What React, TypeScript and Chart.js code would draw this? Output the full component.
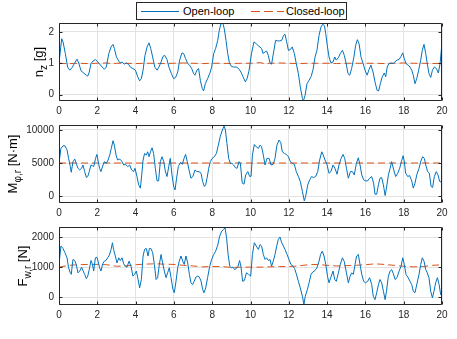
import React, { useEffect, useRef } from 'react';
import { Chart, registerables } from 'chart.js';
Chart.register(...registerables);

// ---------- data ----------
const xTicks = [0, 2, 4, 6, 8, 10, 12, 14, 16, 18, 20];

const nzTicks = [0, 1, 2];
const nzOpenT = [0,0.14,0.21,0.33,0.45,0.56,0.68,0.8,0.94,1.03,1.15,1.29,1.43,1.5,1.58,1.67,1.78,1.9,1.98,2.1,2.25,2.37,2.47,2.6,2.72,2.82,2.89,3.0,3.12,3.2,3.3,3.41,3.52,3.64,3.72,3.86,3.99,4.11,4.21,4.3,4.39,4.49,4.6,4.7,4.79,4.89,5.0,5.12,5.22,5.33,5.43,5.52,5.64,5.74,5.87,5.99,6.09,6.2,6.3,6.42,6.51,6.61,6.72,6.82,6.93,7.03,7.1,7.2,7.29,7.38,7.48,7.55,7.64,7.76,7.87,7.97,8.08,8.18,8.29,8.37,8.46,8.55,8.63,8.72,8.81,8.9,9.0,9.12,9.26,9.38,9.5,9.61,9.73,9.82,9.92,10.05,10.18,10.3,10.44,10.58,10.65,10.76,10.84,10.93,11.02,11.1,11.21,11.31,11.42,11.52,11.63,11.73,11.8,11.89,11.98,12.08,12.18,12.29,12.39,12.5,12.6,12.71,12.76,12.85,12.95,13.06,13.16,13.26,13.37,13.47,13.58,13.68,13.77,13.86,13.93,14.02,14.1,14.2,14.31,14.4,14.48,14.59,14.69,14.8,14.9,15.01,15.09,15.18,15.28,15.4,15.49,15.58,15.67,15.77,15.88,15.98,16.09,16.19,16.29,16.4,16.5,16.61,16.69,16.78,16.88,16.99,17.06,17.14,17.23,17.34,17.44,17.54,17.65,17.76,17.86,17.95,18.03,18.12,18.23,18.33,18.42,18.5,18.59,18.68,18.78,18.89,18.97,19.06,19.15,19.23,19.32,19.41,19.5,19.6,19.71,19.81,19.9,19.98,20];
const nzOpenV = [1.0,1.78,1.68,1.31,0.88,0.78,0.86,0.99,1.13,1.01,0.76,0.69,0.62,0.59,0.72,0.99,1.07,1.12,1.07,0.99,0.88,0.81,0.88,1.31,1.52,1.6,1.47,1.2,1.07,1.01,1.04,0.97,1.01,0.96,0.88,0.83,0.78,0.57,0.44,0.51,0.78,1.25,1.52,1.65,1.47,1.2,0.88,0.78,0.88,1.04,1.22,1.25,1.12,0.88,0.67,0.51,0.55,0.72,1.1,1.33,1.31,1.15,0.99,0.94,0.83,0.67,0.62,0.78,0.83,0.46,0.2,0.12,0.35,0.51,0.67,0.88,1.31,1.47,1.73,2.05,2.26,2.28,2.1,1.73,1.31,1.01,0.9,0.88,0.88,0.83,0.72,0.57,0.41,0.51,0.75,1.3,1.68,1.62,1.54,1.47,1.31,1.36,1.39,1.25,1.01,0.97,1.36,1.73,1.71,1.71,1.73,1.89,1.92,1.68,1.41,1.43,1.52,1.31,0.99,0.67,0.25,-0.12,-0.2,-0.02,0.35,0.46,0.57,0.78,1.2,1.41,1.89,2.15,2.24,2.2,1.94,1.52,1.2,1.01,1.04,1.2,1.1,1.18,1.31,1.41,1.25,0.94,0.67,0.62,0.83,1.2,1.57,1.75,1.62,1.2,0.99,0.78,0.62,0.8,0.94,0.72,0.41,0.14,0.12,0.35,0.57,0.69,0.57,0.88,0.99,1.01,0.99,1.04,1.1,1.12,1.22,1.33,1.15,0.99,0.94,0.88,0.78,0.62,0.35,0.51,0.78,1.1,1.41,1.6,1.31,0.99,0.67,0.55,0.78,0.88,0.83,0.69,0.99,1.52,1.55];
const nzClosedT = [0,0.5,1,1.5,2,2.5,2.8,3,3.5,4,4.5,5,5.5,6,6.5,7,7.5,8,8.5,9,9.5,10,10.5,10.8,11,11.5,12,12.5,13,13.5,14,14.5,15,15.5,16,16.5,17,17.5,18,18.5,19,19.5,20];
const nzClosedV = [1.0,0.99,1.0,0.99,1.0,1.01,0.98,1.0,1.0,0.99,1.0,1.0,0.99,1.0,1.01,1.0,0.99,1.0,1.0,0.99,1.0,1.0,1.02,0.98,1.0,1.01,1.0,0.99,1.0,1.0,1.0,0.99,1.0,1.0,1.0,1.0,0.99,1.0,1.01,1.0,1.0,0.99,1.0];

const mTicks = [0, 5000, 10000];
const mOpenT = [0,0.1,0.21,0.31,0.42,0.5,0.59,0.64,0.73,0.82,0.9,0.99,1.08,1.18,1.25,1.34,1.43,1.5,1.58,1.67,1.74,1.81,1.91,1.98,2.05,2.12,2.19,2.3,2.38,2.47,2.56,2.65,2.73,2.82,2.89,2.98,3.06,3.17,3.27,3.38,3.48,3.59,3.69,3.79,3.9,3.97,4.07,4.16,4.25,4.32,4.39,4.47,4.56,4.63,4.7,4.79,4.86,4.94,5.03,5.12,5.2,5.29,5.38,5.47,5.55,5.64,5.73,5.81,5.9,5.99,6.06,6.13,6.23,6.34,6.44,6.53,6.61,6.7,6.79,6.89,6.99,7.1,7.2,7.31,7.42,7.5,7.59,7.66,7.73,7.82,7.9,8.0,8.11,8.22,8.32,8.42,8.53,8.62,8.69,8.77,8.86,8.95,9.03,9.12,9.21,9.3,9.4,9.47,9.57,9.66,9.75,9.86,9.96,10.03,10.1,10.2,10.3,10.41,10.5,10.58,10.67,10.76,10.86,10.97,11.07,11.18,11.28,11.38,11.49,11.58,11.66,11.77,11.87,11.98,12.08,12.18,12.29,12.39,12.5,12.6,12.71,12.81,12.88,12.99,13.09,13.19,13.3,13.4,13.51,13.61,13.72,13.8,13.89,13.99,14.1,14.2,14.31,14.41,14.52,14.62,14.73,14.83,14.92,15.01,15.11,15.22,15.32,15.42,15.53,15.63,15.72,15.81,15.91,16.01,16.12,16.22,16.33,16.43,16.5,16.59,16.68,16.76,16.85,16.94,17.03,17.1,17.2,17.29,17.37,17.48,17.58,17.69,17.79,17.88,17.97,18.03,18.1,18.21,18.31,18.42,18.5,18.59,18.69,18.8,18.9,18.99,19.08,19.15,19.25,19.34,19.43,19.51,19.6,19.7,19.79,19.88,19.98,20];
const mOpenV = [5000,7200,7600,7600,7000,5700,4450,3600,5200,5600,4950,4200,3950,4200,4700,3700,2800,2950,3700,4700,4600,4450,5700,6300,5200,4200,3700,4700,5200,4950,5450,6200,7200,8370,7700,6200,5450,5600,5300,4700,4800,4450,4700,3950,3700,4200,2950,1700,1200,3200,5450,6450,6200,6700,5950,6800,7300,6450,4200,2300,2300,5200,5950,5200,3800,2950,4450,5700,3200,1450,930,2450,4450,5100,4800,5700,6300,5200,3950,2700,2950,3950,3700,3700,3450,2200,1450,1700,2700,4200,5200,5700,5950,6450,7700,9000,10000,10600,10000,7950,5700,4950,4950,4700,4300,4200,5200,4950,1950,1800,3200,3700,2950,3000,6200,7800,7450,7200,7700,7450,6200,4700,5700,5700,4700,4800,5700,7700,8470,8100,6700,6450,6300,5950,5200,4950,4800,3700,2950,2200,700,-730,-70,1700,2450,2950,2800,2950,3700,5450,6700,6200,5450,4800,3450,3700,4700,4200,3300,4700,5700,6300,5700,4200,2700,3700,3700,3200,4950,5800,4700,3200,2450,2300,2300,2700,2950,1950,280,280,1700,2700,2800,1700,80,1200,3200,4200,5200,3950,2950,3450,4200,5200,6100,5300,3450,2950,3100,2300,1200,1950,3300,4200,5300,5950,5700,4700,3700,3450,1450,1300,2950,3700,3200,2200,2100,2100];
const mClosedT = [0, 5, 10, 15, 20];
const mClosedV = [5000, 5000, 5000, 5000, 5000];

const fTicks = [0, 1000, 2000];
const fOpenT = [0,0.1,0.21,0.31,0.42,0.5,0.59,0.64,0.73,0.82,0.9,0.99,1.08,1.18,1.25,1.34,1.43,1.5,1.58,1.67,1.74,1.81,1.9,1.98,2.05,2.12,2.19,2.28,2.37,2.45,2.54,2.63,2.72,2.79,2.85,2.94,3.03,3.12,3.2,3.29,3.38,3.46,3.55,3.66,3.76,3.86,3.95,4.04,4.13,4.21,4.3,4.39,4.47,4.56,4.65,4.72,4.8,4.89,4.98,5.07,5.15,5.24,5.33,5.41,5.5,5.59,5.67,5.76,5.85,5.95,6.02,6.11,6.2,6.28,6.37,6.46,6.54,6.63,6.72,6.81,6.89,6.98,7.06,7.15,7.24,7.33,7.42,7.5,7.57,7.66,7.76,7.87,7.97,8.08,8.18,8.29,8.39,8.5,8.6,8.67,8.75,8.83,8.92,9.0,9.09,9.17,9.26,9.35,9.43,9.5,9.59,9.68,9.79,9.9,10.01,10.1,10.2,10.3,10.41,10.5,10.58,10.67,10.76,10.84,10.93,11.02,11.1,11.19,11.28,11.37,11.45,11.54,11.63,11.72,11.8,11.91,12.01,12.11,12.22,12.3,12.39,12.5,12.6,12.71,12.79,12.86,12.97,13.06,13.16,13.26,13.37,13.47,13.58,13.66,13.75,13.84,13.93,14.02,14.1,14.2,14.31,14.4,14.48,14.59,14.69,14.8,14.9,15.01,15.11,15.2,15.28,15.37,15.46,15.54,15.63,15.72,15.81,15.91,16.01,16.12,16.22,16.33,16.41,16.5,16.59,16.68,16.76,16.85,16.94,17.03,17.1,17.2,17.29,17.37,17.46,17.55,17.65,17.76,17.86,17.95,18.03,18.12,18.23,18.33,18.42,18.5,18.59,18.69,18.8,18.89,18.97,19.06,19.15,19.23,19.32,19.41,19.5,19.58,19.67,19.76,19.85,19.93,20];
const fOpenV = [1090,1700,1620,1480,1310,980,810,760,1255,1220,1090,810,870,1000,890,760,620,700,920,1220,1110,870,1310,1330,1180,980,870,1110,1200,1220,1310,1400,1590,1810,1590,1370,1140,1310,1220,1310,1110,1030,1000,1200,1030,700,760,870,590,310,590,1370,1590,1620,1370,1620,1620,1480,1090,590,650,1090,1420,1140,870,650,810,980,650,260,150,530,980,1200,1370,1200,1090,1370,1140,760,480,420,530,670,700,670,530,260,150,310,650,1030,1255,1420,1530,1730,2030,2200,2250,2310,1980,1420,1030,980,1000,920,955,1030,1220,1030,530,555,810,760,700,1420,1810,1700,1590,1750,1700,1420,1255,1310,1220,1255,1030,1200,1420,1700,1920,2000,1810,1700,1590,1420,1255,1090,1030,955,780,530,310,35,-240,35,260,480,760,845,890,980,1200,1420,1530,1370,1090,700,480,670,870,590,530,810,1090,1310,1180,810,480,700,810,760,1090,1370,1420,1090,760,530,480,530,650,420,35,-80,150,420,590,480,200,-80,200,700,870,920,780,590,650,870,1030,1310,1090,760,650,530,420,200,150,445,760,1090,1310,1200,920,810,650,200,-20,200,480,650,420,90,150];
const fClosedT = [0,0.5,1,1.5,2,2.5,3,3.5,4,4.5,5,5.5,6,6.5,7,7.5,8,8.5,9,9.5,10,10.5,11,11.5,12,12.5,13,13.5,14,14.5,15,15.5,16,16.5,17,17.5,18,18.5,19,19.5,20];
const fClosedV = [1000,1060,1080,1090,1090,1080,1030,1040,1080,1100,1110,1100,1090,1060,1040,1010,1020,1020,990,1000,1000,1000,1010,1020,1020,1040,1080,1090,1060,1040,1050,1060,1080,1110,1090,1060,1030,1010,1020,1060,1080];

// ---------- style ----------
const FONT = '"Liberation Sans", Arial, Helvetica, sans-serif';
const BLUE = '#0072BD';
const ORANGE = '#D95319';
const AXIS = '#262626';
const GRID = '#e3e3e3';

const pts = (t: number[], v: number[]) => t.map((x, i) => ({ x, y: v[i] }));

const framePlugin = {
  id: 'frame',
  afterDatasetsDraw(chart: any) {
    const { ctx, chartArea: a, scales } = chart;
    ctx.save();
    ctx.strokeStyle = AXIS;
    ctx.lineWidth = 1;
    const L = Math.round(a.left) + 0.5, R = Math.round(a.right) - 0.5;
    const T = Math.round(a.top) + 0.5, B = Math.round(a.bottom) - 0.5;
    ctx.beginPath();
    ctx.rect(L, T, R - L, B - T);
    const tl = 3;
    for (const tk of scales.x.ticks) {
      const px = Math.round(scales.x.getPixelForValue(tk.value)) + 0.5;
      ctx.moveTo(px, B); ctx.lineTo(px, B - tl);
      ctx.moveTo(px, T); ctx.lineTo(px, T + tl);
    }
    for (const tk of scales.y.ticks) {
      const py = Math.round(scales.y.getPixelForValue(tk.value)) + 0.5;
      ctx.moveTo(L, py); ctx.lineTo(L + tl, py);
      ctx.moveTo(R, py); ctx.lineTo(R - tl, py);
    }
    ctx.stroke();
    ctx.restore();
  },
};

const TITLE_SIZE = 13;
const SUB_SIZE = 10;

const titlePlugin = {
  id: 'ytitle',
  afterDraw(chart: any, _args: any, opts: any) {
    const { ctx, chartArea: a } = chart;
    ctx.save();
    ctx.fillStyle = '#000';
    ctx.textBaseline = 'alphabetic';
    ctx.textAlign = 'left';
    const segs = opts.segs as { text: string; sub?: boolean }[];
    const widths = segs.map((s) => {
      ctx.font = `${s.sub ? SUB_SIZE : TITLE_SIZE}px ${FONT}`;
      return ctx.measureText(s.text).width;
    });
    const total = widths.reduce((p, c) => p + c, 0);
    ctx.translate(opts.x, (a.top + a.bottom) / 2);
    ctx.rotate(-Math.PI / 2);
    let x = -total / 2;
    segs.forEach((s, i) => {
      ctx.font = `${s.sub ? SUB_SIZE : TITLE_SIZE}px ${FONT}`;
      ctx.fillText(s.text, x, s.sub ? 3.5 : 0);
      x += widths[i];
    });
    ctx.restore();
    if (opts.xlabel) {
      ctx.save();
      ctx.fillStyle = '#000';
      ctx.font = `12px ${FONT}`;
      ctx.textAlign = 'center';
      ctx.textBaseline = 'alphabetic';
      ctx.fillText(opts.xlabel, (a.left + a.right) / 2, opts.xlabelY);
      ctx.restore();
    }
  },
};

type Panel = {
  openT: number[]; openV: number[]; closedT: number[]; closedV: number[];
  yMin: number; yMax: number; yTicks: number[];
  top: number; height: number; plotTop: number; plotBottom: number;
  segs: { text: string; sub?: boolean }[]; titleX: number; xlabel?: string; xlabelY?: number;
};

const panels: Panel[] = [
  { openT: nzOpenT, openV: nzOpenV, closedT: nzClosedT, closedV: nzClosedV, yMin: -0.2, yMax: 2.28, yTicks: nzTicks,
    top: 20, height: 100, plotTop: 23, plotBottom: 101,
    segs: [{ text: 'n' }, { text: 'z', sub: true }, { text: ' [g]' }], titleX: 43 },
  { openT: mOpenT, openV: mOpenV, closedT: mClosedT, closedV: mClosedV, yMin: -1050, yMax: 10750, yTicks: mTicks,
    top: 120, height: 100, plotTop: 125, plotBottom: 203,
    segs: [{ text: 'M' }, { text: 'φ,r', sub: true }, { text: ' [N·m]' }], titleX: 17 },
  { openT: fOpenT, openV: fOpenV, closedT: fClosedT, closedV: fClosedV, yMin: -257, yMax: 2333, yTicks: fTicks,
    top: 220, height: 119, plotTop: 227, plotBottom: 305,
    segs: [{ text: 'F' }, { text: 'w,r', sub: true }, { text: ' [N]' }], titleX: 27, xlabel: 't [s]', xlabelY: 334 },
];

function PanelChart({ p }: { p: Panel }) {
  const ref = useRef<HTMLCanvasElement>(null);
  useEffect(() => {
    if (!ref.current) return;
    const tickFont = { family: FONT, size: 10 };
    const chart = new Chart(ref.current, {
      type: 'line',
      data: {
        datasets: [
          { data: pts(p.openT, p.openV), borderColor: BLUE, borderWidth: 1, pointRadius: 0, tension: 0, fill: false },
          { data: pts(p.closedT, p.closedV), borderColor: ORANGE, borderWidth: 1, borderDash: [7, 4], pointRadius: 0, tension: 0, fill: false },
        ],
      },
      options: {
        animation: false,
        responsive: false,
        devicePixelRatio: 1,
        events: [],
        layout: { padding: { top: p.plotTop - p.top, right: 15, left: 0, bottom: 0 } },
        plugins: { legend: { display: false }, tooltip: { enabled: false }, ytitle: { segs: p.segs, x: p.titleX, xlabel: p.xlabel, xlabelY: p.xlabelY } } as any,
        scales: {
          x: {
            type: 'linear', min: 0, max: 20,
            afterBuildTicks: (s: any) => { s.ticks = xTicks.map((v) => ({ value: v })); },
            afterFit: (s: any) => { s.height = p.top + p.height - p.plotBottom; s.paddingLeft = 0; s.paddingRight = 0; },
            ticks: { font: tickFont, color: AXIS, padding: 4, maxRotation: 0, autoSkip: false, callback: (v: any) => String(v) },
            grid: { color: GRID, drawTicks: false, lineWidth: 1 },
            border: { display: false },
          },
          y: {
            type: 'linear', min: p.yMin, max: p.yMax,
            afterBuildTicks: (s: any) => { s.ticks = p.yTicks.map((v) => ({ value: v })); },
            afterFit: (s: any) => { s.width = 59; s.paddingTop = 0; s.paddingBottom = 0; },
            ticks: { font: tickFont, color: AXIS, padding: 5, callback: (v: any) => String(v) },
            grid: { color: GRID, drawTicks: false, lineWidth: 1 },
            border: { display: false },
          },
        },
      } as any,
      plugins: [framePlugin, titlePlugin],
    });
    return () => chart.destroy();
  }, [p]);
  return (
    <canvas ref={ref} width={457} height={p.height}
      style={{ position: 'absolute', left: 0, top: p.top, width: 457, height: p.height, display: 'block' }} />
  );
}

export default function App() {
  return (
    <div style={{ position: 'absolute', left: 0, top: 0, width: 457, height: 339, background: '#fff', overflow: 'hidden' }}>
      {panels.map((p, i) => <PanelChart key={i} p={p} />)}
      <div style={{ position: 'absolute', left: 136, top: 2, width: 209, height: 16, border: `1px solid ${AXIS}`, background: '#fff',
        fontFamily: FONT, fontSize: 11, color: '#000' }}>
        <svg width={209} height={16} style={{ position: 'absolute', left: 0, top: 0 }}>
          <line x1={4} y1={8.5} x2={42} y2={8.5} stroke={BLUE} strokeWidth={1} />
          <line x1={114} y1={8.5} x2={147} y2={8.5} stroke={ORANGE} strokeWidth={1} strokeDasharray="9 4" />
        </svg>
        <span style={{ position: 'absolute', left: 46, top: 1, lineHeight: '14px', whiteSpace: 'nowrap' }}>Open-loop</span>
        <span style={{ position: 'absolute', left: 149, top: 1, lineHeight: '14px', whiteSpace: 'nowrap' }}>Closed-loop</span>
      </div>
    </div>
  );
}
